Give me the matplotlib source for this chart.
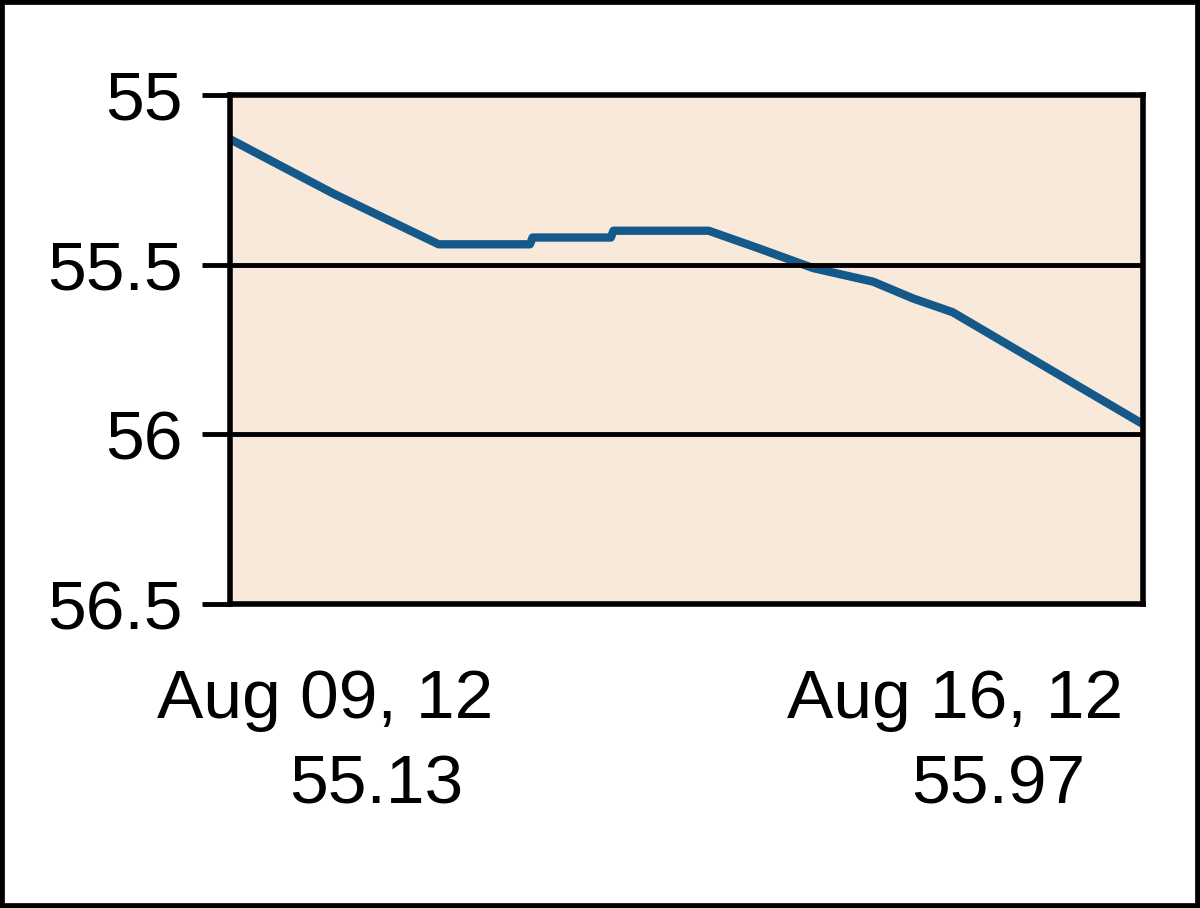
#!/usr/bin/env python3

import matplotlib
matplotlib.use("Agg")
import matplotlib.pyplot as plt
from matplotlib.patches import Rectangle

# days since Aug 09, 12 and price
days = [0.0, 0.79, 1.60, 2.30, 2.32, 2.92, 2.94, 3.67, 4.04, 4.47, 4.93, 5.24, 5.54, 7.0]
price = [55.13, 55.29, 55.44, 55.44, 55.42, 55.42, 55.40, 55.40, 55.45, 55.51, 55.55, 55.60, 55.64, 55.97]

y_ticks = [55, 55.5, 56, 56.5]
y_labels = ["55", "55.5", "56", "56.5"]

start_label = "Aug 09, 12"
start_value = "55.13"
end_label = "Aug 16, 12"
end_value = "55.97"

W, H = 1200, 908


def main():
    plt.rcParams['font.family'] = ['Liberation Sans', 'DejaVu Sans']
    fig = plt.figure(figsize=(W / 100, H / 100), dpi=100)
    fig.patches.append(Rectangle((0, 0), 1, 1, transform=fig.transFigure,
                                 fill=False, edgecolor='black', linewidth=7))

    ax = fig.add_axes([230 / W, 1 - 604 / H, (1143 - 230) / W, (604 - 95) / H])
    ax.set_facecolor('#f9e9da')
    ax.plot(days, price, color='#15598a', linewidth=6, solid_capstyle='butt')

    ax.set_xlim(days[0], days[-1])
    ax.set_ylim(56.5, 55)
    ax.set_yticks(y_ticks)
    ax.set_yticklabels(y_labels, fontsize=50)
    ax.set_xticks([])
    ax.tick_params(axis='y', length=20, width=3.5, pad=14)
    for y in y_ticks[1:-1]:
        ax.axhline(y, color='black', linewidth=3.5)
    for s in ax.spines.values():
        s.set_linewidth(4)

    fig.text(325 / W, 1 - 700 / H, start_label, fontsize=50, ha='center', va='center')
    fig.text(376 / W, 1 - 785 / H, start_value, fontsize=50, ha='center', va='center')
    fig.text(955 / W, 1 - 700 / H, end_label, fontsize=50, ha='center', va='center')
    fig.text(998 / W, 1 - 785 / H, end_value, fontsize=50, ha='center', va='center')

    fig.savefig("out.png", dpi=100)


if __name__ == "__main__":
    main()
